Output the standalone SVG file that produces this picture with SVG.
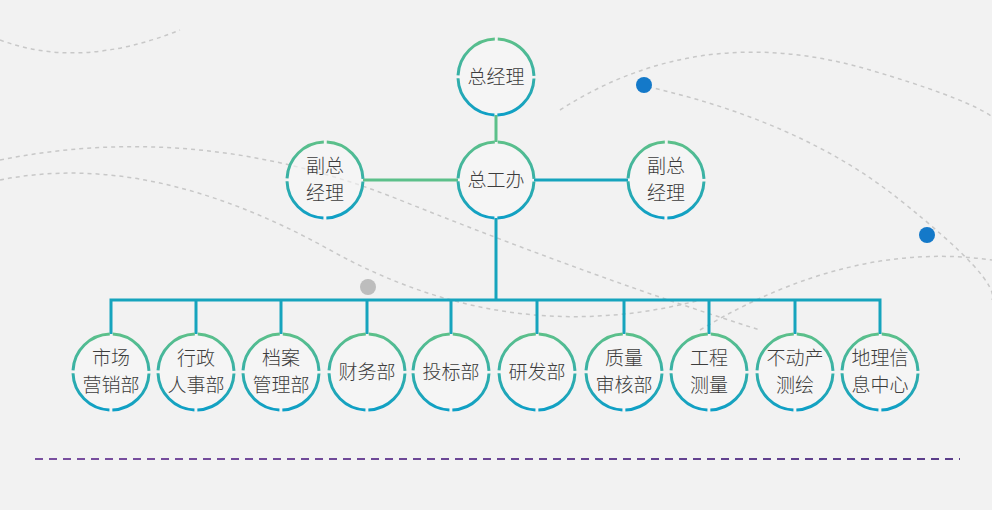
<svg xmlns="http://www.w3.org/2000/svg" width="992" height="510" viewBox="0 0 992 510">
<defs>
<linearGradient id="ring" x1="0" y1="0" x2="0" y2="1"><stop offset="0" stop-color="#5cc08a"/><stop offset="1" stop-color="#0e9fc6"/></linearGradient>
<linearGradient id="dl" gradientUnits="userSpaceOnUse" x1="35" y1="0" x2="960" y2="0"><stop offset="0" stop-color="#7a4fa0"/><stop offset="1" stop-color="#5a3d8a"/></linearGradient>
<g id="c"><circle r="38" fill="#f7f7f7" fill-opacity="0.6" stroke="url(#ring)" stroke-width="3" stroke-dasharray="56.69 3" stroke-dashoffset="58.19"/></g>
</defs>
<style>
text{font-family:"Noto Sans CJK SC",sans-serif;font-size:19px;font-weight:300;fill:#3d3d3d;text-anchor:middle}
.ln{stroke:#16a4bd;stroke-width:3;fill:none}
.gl{stroke:#5cc08a;stroke-width:3;fill:none}
.bg{stroke:#c8c8c8;stroke-width:1.5;fill:none;stroke-dasharray:4 4}
</style>
<rect width="992" height="510" fill="#f2f2f2"/>
<g id="bgcurves">
<path class="bg" d="M0 160 Q200 120 400 200 T760 330"/>
<path class="bg" d="M0 180 Q150 150 330 250 T700 300"/>
<path class="bg" d="M560 110 Q700 20 870 70 T992 140"/>
<path class="bg" d="M640 85 Q800 120 900 200 T992 300"/>
<path class="bg" d="M0 40 Q80 70 180 30"/>
<path class="bg" d="M700 330 Q850 240 992 260"/>
</g>
<circle cx="644" cy="85" r="8" fill="#1479c9"/>
<circle cx="927" cy="235" r="8" fill="#1479c9"/>
<circle cx="368" cy="287" r="8" fill="#bdbdbd"/>
<line x1="35" y1="459" x2="960" y2="459" stroke="url(#dl)" stroke-width="2" stroke-dasharray="8 6"/>
<g id="connectors">
<line class="gl" x1="496" y1="115" x2="496" y2="142"/>
<line class="gl" x1="363" y1="180" x2="458" y2="180"/>
<line class="ln" x1="534" y1="180" x2="628" y2="180"/>
<line class="ln" x1="496" y1="218" x2="496" y2="300"/>
<polyline class="ln" points="111,334 111,300 880,300 880,334"/>
<path class="ln" d="M196 300V334M281 300V334M367 300V334M451 300V334M537 300V334M624 300V334M709 300V334M795 300V334"/>
</g>
<g id="n0"><use href="#c" x="496" y="77"/><text x="496" y="84">总经理</text></g>
<g id="n1"><use href="#c" x="496" y="180"/><text x="496" y="187">总工办</text></g>
<g id="n2"><use href="#c" x="325" y="180"/><text x="325" y="173">副总</text><text x="325" y="200">经理</text></g>
<g id="n3"><use href="#c" x="666" y="180"/><text x="666" y="173">副总</text><text x="666" y="200">经理</text></g>
<g id="b1"><use href="#c" x="111" y="372"/><text x="111" y="365">市场</text><text x="111" y="392">营销部</text></g>
<g id="b2"><use href="#c" x="196" y="372"/><text x="196" y="365">行政</text><text x="196" y="392">人事部</text></g>
<g id="b3"><use href="#c" x="281" y="372"/><text x="281" y="365">档案</text><text x="281" y="392">管理部</text></g>
<g id="b4"><use href="#c" x="367" y="372"/><text x="367" y="379">财务部</text></g>
<g id="b5"><use href="#c" x="451" y="372"/><text x="451" y="379">投标部</text></g>
<g id="b6"><use href="#c" x="537" y="372"/><text x="537" y="379">研发部</text></g>
<g id="b7"><use href="#c" x="624" y="372"/><text x="624" y="365">质量</text><text x="624" y="392">审核部</text></g>
<g id="b8"><use href="#c" x="709" y="372"/><text x="709" y="365">工程</text><text x="709" y="392">测量</text></g>
<g id="b9"><use href="#c" x="795" y="372"/><text x="795" y="365">不动产</text><text x="795" y="392">测绘</text></g>
<g id="b10"><use href="#c" x="880" y="372"/><text x="880" y="365">地理信</text><text x="880" y="392">息中心</text></g>
</svg>
